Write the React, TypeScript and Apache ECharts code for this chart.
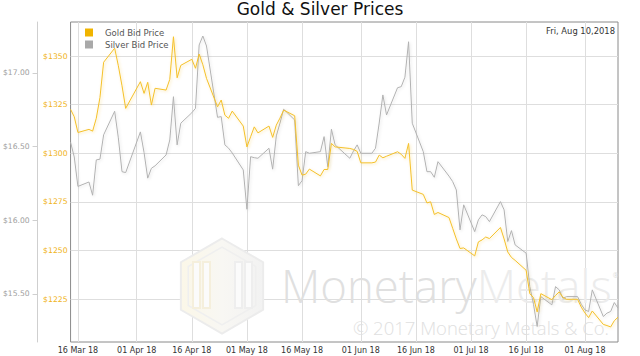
import React, { useEffect, useRef } from "react";
import * as echarts from "echarts";

const dates = [
  "2018-03-14", "2018-03-15", "2018-03-16",
  "2018-03-19", "2018-03-20", "2018-03-21", "2018-03-22", "2018-03-23",
  "2018-03-26", "2018-03-27", "2018-03-28", "2018-03-29",
  "2018-04-02", "2018-04-03", "2018-04-04", "2018-04-05", "2018-04-06",
  "2018-04-09", "2018-04-10", "2018-04-11", "2018-04-12", "2018-04-13",
  "2018-04-16", "2018-04-17", "2018-04-18", "2018-04-19", "2018-04-20",
  "2018-04-23", "2018-04-24", "2018-04-25", "2018-04-26", "2018-04-27",
  "2018-04-30", "2018-05-01", "2018-05-02", "2018-05-03", "2018-05-04",
  "2018-05-07", "2018-05-08", "2018-05-09", "2018-05-10", "2018-05-11",
  "2018-05-14", "2018-05-15", "2018-05-16", "2018-05-17", "2018-05-18",
  "2018-05-21", "2018-05-22", "2018-05-23", "2018-05-24", "2018-05-25",
  "2018-05-29", "2018-05-30", "2018-05-31", "2018-06-01",
  "2018-06-04", "2018-06-05", "2018-06-06", "2018-06-07", "2018-06-08",
  "2018-06-11", "2018-06-12", "2018-06-13", "2018-06-14", "2018-06-15",
  "2018-06-18", "2018-06-19", "2018-06-20", "2018-06-21", "2018-06-22",
  "2018-06-25", "2018-06-26", "2018-06-27", "2018-06-28", "2018-06-29",
  "2018-07-02", "2018-07-03", "2018-07-04", "2018-07-05", "2018-07-06",
  "2018-07-09", "2018-07-10", "2018-07-11", "2018-07-12", "2018-07-13",
  "2018-07-16", "2018-07-17", "2018-07-18", "2018-07-19", "2018-07-20",
  "2018-07-23", "2018-07-24", "2018-07-25", "2018-07-26", "2018-07-27",
  "2018-07-30", "2018-07-31", "2018-08-01", "2018-08-02", "2018-08-03",
  "2018-08-06", "2018-08-07", "2018-08-08", "2018-08-09", "2018-08-10",
];

const goldBid = [
  1322.6, 1318.8, 1310.7,
  1312.3, 1311.4, 1318, 1328.7, 1346.8,
  1354, 1345, 1334.7, 1323.1,
  1336.8, 1330.8, 1336.5, 1324.8, 1333.4,
  1332.5, 1338, 1359.9, 1338.8, 1345.2,
  1348.3, 1343.7, 1351, 1345.5, 1338.5,
  1323.9, 1327.4, 1319.6, 1318, 1321.7,
  1314, 1303.3, 1308.5, 1313.6, 1310.5,
  1314, 1308.2, 1314.5, 1318.1, 1322.2,
  1319.3, 1293.9, 1288.8, 1289.3, 1291.9,
  1288.4, 1291.7, 1291.7, 1305.1, 1303.3,
  1302.5, 1302, 1301, 1295.1,
  1295.1, 1295.5, 1299.1, 1297.7, 1298.5,
  1300.8, 1299.5, 1297.4, 1305.1, 1281.1,
  1278.9, 1274.5, 1275.1, 1268.6, 1269.6,
  1267, 1261.5, 1256, 1251.1, 1251.4,
  1247.3, 1254.5, 1255.5, 1257, 1256.2,
  1261.9, 1256, 1249.3, 1246.5, 1245,
  1239.9, 1227.9, 1225.9, 1218.5, 1227.9,
  1224.8, 1227, 1228.8, 1226, 1225,
  1225, 1221, 1218, 1215.6, 1219,
  1212.1, 1211.5, 1210.8, 1214, 1215.8,
];

const silverBid = [
  16.53, 16.43, 16.23,
  16.26, 16.17, 16.41, 16.415, 16.58,
  16.74, 16.56, 16.33, 16.324,
  16.6, 16.46, 16.286, 16.353, 16.37,
  16.444, 16.545, 16.839, 16.512, 16.659,
  16.73, 16.76, 17.19, 17.251, 17.183,
  16.699, 16.704, 16.512, 16.49, 16.457,
  16.342, 16.075, 16.432, 16.425, 16.421,
  16.489, 16.347, 16.573, 16.66, 16.754,
  16.681, 16.235, 16.269, 16.466, 16.455,
  16.466, 16.568, 16.364, 16.618, 16.512,
  16.421, 16.47, 16.512, 16.455,
  16.455, 16.489, 16.66, 16.851, 16.715,
  16.9, 16.907, 16.971, 17.212, 16.659,
  16.466, 16.33, 16.33, 16.292, 16.398,
  16.3, 16.263, 16.206, 15.935, 16.105,
  15.923, 16.003, 16.037, 16.025, 15.991,
  16.127, 16.071, 15.856, 15.93, 15.833,
  15.777, 15.55, 15.43, 15.279, 15.482,
  15.426, 15.55, 15.528, 15.47, 15.482,
  15.482, 15.43, 15.392, 15.381, 15.528,
  15.347, 15.37, 15.381, 15.442, 15.404,
];

const xTickDates = [
  "2018-03-16", "2018-04-01", "2018-04-16", "2018-05-01", "2018-05-16",
  "2018-06-01", "2018-06-16", "2018-07-01", "2018-07-16", "2018-08-01",
];
const goldTicks = [1225, 1250, 1275, 1300, 1325, 1350];
const silverTicks = [15.5, 16.0, 16.5, 17.0];
const xRange = ["2018-03-14", "2018-08-10"];
const goldRange = [1203.06, 1367.47];
const silverRange = [15.174, 17.346];

const MONTHS = ["Jan", "Feb", "Mar", "Apr", "May", "Jun", "Jul", "Aug", "Sep", "Oct", "Nov", "Dec"];
const ts = (s: string) => {
  const [y, m, d] = s.split("-").map(Number);
  return Date.UTC(y, m - 1, d);
};
const fmtDate = (v: number) => {
  const d = new Date(v);
  const dd = String(d.getUTCDate()).padStart(2, "0");
  const yy = String(d.getUTCFullYear()).slice(2);
  return `${dd} ${MONTHS[d.getUTCMonth()]} ${yy}`;
};

const FONT = "DejaVu Sans";
const GOLD_LINE = "#f5c12a";
const SILVER_LINE = "#b2b2b2";

export default function App() {
  const ref = useRef<HTMLDivElement>(null);
  useEffect(() => {
    if (!ref.current) return;
    const chart = echarts.init(ref.current, null, { renderer: "svg" });
    const goldData = dates.map((d, i) => [ts(d), goldBid[i]]);
    const silverData = dates.map((d, i) => [ts(d), silverBid[i]]);

    // hexagon logo (pointy top)
    const cx = 222, cy = 286, r = 47.5;
    const hex = (rr: number) => {
      const pts: number[][] = [];
      for (let k = 0; k < 6; k++) {
        const a = (Math.PI / 180) * (-90 + 60 * k);
        pts.push([cx + rr * Math.cos(a), cy + rr * Math.sin(a)]);
      }
      return pts;
    };

    chart.setOption({
      animation: false,
      textStyle: { fontFamily: FONT },
      title: {
        text: "Gold & Silver Prices",
        left: "center",
        top: -5,
        textStyle: { fontFamily: FONT, fontSize: 17, fontWeight: "normal", color: "#111" },
      },
      legend: {
        orient: "vertical",
        left: 80,
        top: 23,
        itemWidth: 8,
        itemHeight: 8,
        itemGap: 3,
        icon: "rect",
        textStyle: { fontFamily: FONT, fontSize: 8.5, color: "#555", padding: [0, 0, 0, 7] },
        data: [
          { name: "Gold Bid Price", itemStyle: { color: "#f0b400" } },
          { name: "Silver Bid Price", itemStyle: { color: "#a9a9a9" } },
        ],
      },
      grid: {
        left: 68,
        right: 22,
        top: 22,
        bottom: 14,
        show: true,
        borderColor: "#8a8a8a",
        borderWidth: 1,
      },
      xAxis: {
        type: "value",
        min: ts(xRange[0]),
        max: ts(xRange[1]),
        axisLine: { show: false },
        axisTick: { show: false, customValues: xTickDates.map(ts) },
        axisLabel: {
          customValues: xTickDates.map(ts),
          formatter: (v: number) => fmtDate(v),
          fontFamily: FONT,
          fontSize: 8,
          color: "#333",
          margin: 4,
        },
        splitLine: { show: true, lineStyle: { color: "#dedede", width: 1 } },
      },
      yAxis: [
        {
          type: "value",
          position: "left",
          min: goldRange[0],
          max: goldRange[1],
          axisLine: { show: false },
          axisTick: { show: false, customValues: goldTicks },
          axisLabel: {
            customValues: goldTicks,
            formatter: (v: number) => "$" + v,
            fontFamily: FONT,
            fontSize: 7.7,
            color: "#f0b31a",
            margin: 3,
          },
          splitLine: { show: true, lineStyle: { color: "#dedede", width: 1 } },
        },
        {
          type: "value",
          position: "left",
          offset: 33,
          min: silverRange[0],
          max: silverRange[1],
          axisLine: { show: true, lineStyle: { color: "#cfcfcf" } },
          axisTick: { show: true, length: 5, customValues: silverTicks, lineStyle: { color: "#cfcfcf" } },
          axisLabel: {
            customValues: silverTicks,
            formatter: (v: number) => "$" + v.toFixed(2),
            fontFamily: FONT,
            fontSize: 7.6,
            color: "#a0a0a0",
            margin: 8,
          },
          splitLine: { show: false },
        },
      ],
      graphic: [
        {
          type: "polygon",
          z: 1,
          silent: true,
          shape: { points: hex(r) },
          style: {
            fill: new echarts.graphic.LinearGradient(0, 0, 1, 0, [
              { offset: 0, color: "#fbf7e8" },
              { offset: 0.5, color: "#f8f7f3" },
              { offset: 1, color: "#f2f2f2" },
            ]),
            stroke: "#ececec",
            lineWidth: 2,
          },
        },
        {
          type: "polygon",
          z: 1,
          silent: true,
          shape: { points: hex(r * 0.82) },
          style: { fill: "none", stroke: "#efefef", lineWidth: 1.5 },
        },
        ...[
          [193, "#f5efdc"],
          [203, "#f5efdc"],
          [235, "#eeeeee"],
          [245, "#eeeeee"],
        ].map(([x, c]) => ({
          type: "rect",
          z: 1,
          silent: true,
          shape: { x: x as number, y: 262, width: 7, height: 46 },
          style: { fill: "#fbfbfb", stroke: c as string, lineWidth: 2 },
        })),
        {
          type: "text",
          z: 1,
          silent: true,
          x: 281,
          y: 285,
          style: {
            text: "{a|Monetary}{b|Metals}{r|®}",
            fontFamily: "Open Sans",
            fontWeight: 300,
            fontSize: 45.5,
            verticalAlign: "middle",
            rich: {
              a: { fontFamily: "Open Sans", fontWeight: 300, fontSize: 45.5, fill: "#e0e0e0" },
              b: { fontFamily: "Open Sans", fontWeight: 300, fontSize: 45.5, fill: "#ececec" },
              r: {
                fontFamily: "Open Sans",
                fontSize: 7,
                fill: "#dddddd",
                verticalAlign: "top",
                padding: [10, 0, 0, 1],
              },
            },
          },
        },
        {
          type: "text",
          z: 1,
          silent: true,
          x: 609,
          y: 327,
          style: {
            text: "© 2017 Monetary Metals & Co.",
            fontFamily: "Open Sans",
            fontWeight: 300,
            fontSize: 18.5,
            fill: "#e0e0e0",
            align: "right",
            verticalAlign: "middle",
          },
        },
        {
          type: "text",
          z: 10,
          silent: true,
          x: 615,
          y: 31,
          style: {
            text: "Fri, Aug 10,2018",
            fontFamily: FONT,
            fontSize: 8.4,
            fill: "#333",
            align: "right",
            verticalAlign: "middle",
          },
        },
      ],
      series: [
        {
          name: "Silver Bid Price",
          type: "line",
          yAxisIndex: 1,
          data: silverData,
          symbol: "none",
          lineStyle: {
            color: SILVER_LINE,
            width: 1,
            shadowColor: "rgba(0,0,0,0.12)",
            shadowBlur: 3,
            shadowOffsetX: 1,
            shadowOffsetY: 1,
          },
          itemStyle: { color: "#a9a9a9" },
          z: 3,
        },
        {
          name: "Gold Bid Price",
          type: "line",
          yAxisIndex: 0,
          data: goldData,
          symbol: "none",
          lineStyle: {
            color: GOLD_LINE,
            width: 1,
            shadowColor: "rgba(240,180,0,0.35)",
            shadowBlur: 3,
            shadowOffsetX: 1,
            shadowOffsetY: 1,
          },
          itemStyle: { color: "#f0b400" },
          z: 4,
        },
      ],
    });
    return () => chart.dispose();
  }, []);
  return (
    <div
      ref={ref}
      style={{ position: "absolute", left: 0, top: 0, width: 640, height: 356, background: "#fff" }}
    />
  );
}
